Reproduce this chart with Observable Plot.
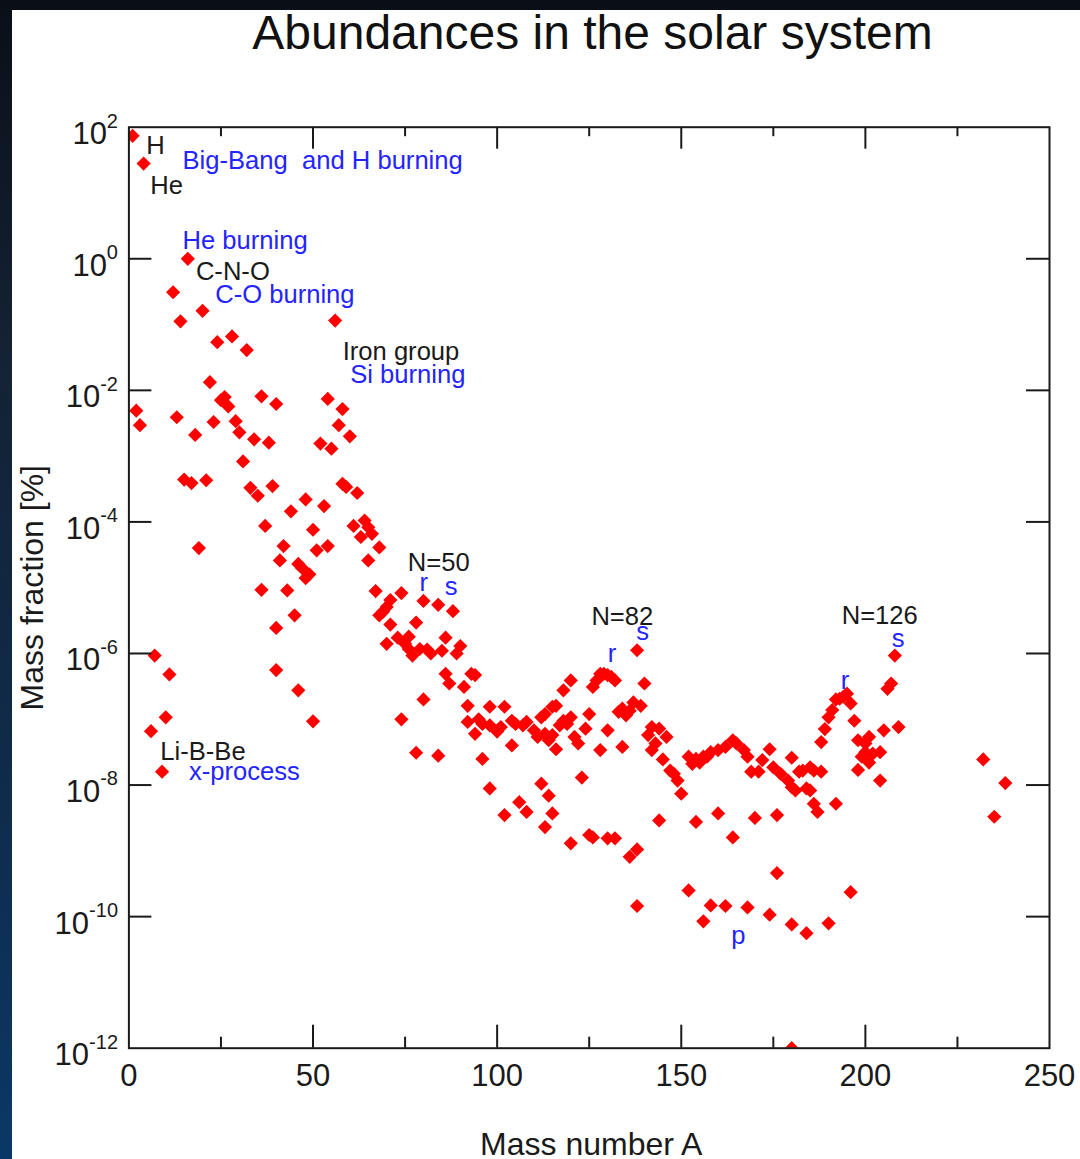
<!DOCTYPE html>
<html><head><meta charset="utf-8">
<script src="https://cdn.jsdelivr.net/npm/d3@7"></script>
<script src="https://cdn.jsdelivr.net/npm/@observablehq/plot@0.6"></script>
<style>
html,body{margin:0;padding:0;}
body{width:1080px;height:1159px;overflow:hidden;background:linear-gradient(to bottom,#0a0f17 0%,#142234 30%,#0f2c4c 70%,#0a3866 100%);font-family:"Liberation Sans",Arial,sans-serif;}
#page{position:relative;width:1080px;height:1159px;}
#panel{position:absolute;left:12px;top:10px;right:0;bottom:0;background:#fff;}
#title{position:absolute;left:132px;width:921px;top:9px;text-align:center;font-size:48px;line-height:48px;color:#111;white-space:nowrap;}
#chart{position:absolute;left:0;top:60px;}
</style></head><body>
<div id="page"><div id="panel"></div><div id="title">Abundances in the solar system</div><div id="chart"></div></div>
<script>
// Mass number A of each plotted isotope, and its mass fraction in %
const massNumber = [
  1, 2, 3, 4, 6, 7, 9, 10, 11, 12,
  13, 14, 15, 16, 17, 18, 19, 20, 21, 22,
  23, 24, 25, 26, 27, 28, 29, 30, 31, 32,
  33, 34, 35, 36, 36, 37, 38, 39, 40, 40,
  40, 41, 42, 43, 44, 45, 46, 46, 47, 48,
  48, 49, 50, 50, 51, 52, 53, 54, 54, 55,
  56, 57, 58, 58, 59, 60, 61, 62, 63, 64,
  65, 66, 68, 65, 67, 68, 69, 70, 71, 70,
  71, 73, 74, 74, 75, 76, 77, 76, 78, 78,
  80, 80, 79, 81, 82, 84, 85, 84, 86, 88,
  89, 90, 86, 87, 93, 94, 91, 92, 98, 102,
  92, 95, 96, 94, 98, 100, 101, 104, 105, 107,
  108, 110, 111, 113, 115, 113, 115, 116, 116, 120,
  118, 118, 120, 121, 122, 125, 124, 128, 126, 127,
  128, 129, 130, 131, 132, 138, 140, 133, 134, 135,
  136, 137, 139, 130, 134, 119, 117, 112, 114, 142,
  144, 141, 146, 143, 142, 145, 148, 149, 147, 150,
  152, 154, 156, 158, 160, 162, 164, 165, 167, 168,
  153, 155, 157, 169, 171, 172, 174, 175, 177, 179,
  180, 182, 183, 185, 186, 188, 180, 181, 184, 185,
  186, 187, 192, 188, 189, 190, 191, 192, 193, 194,
  195, 196, 197, 198, 200, 201, 200, 199, 201, 202,
  204, 205, 198, 204, 209, 207, 206, 208, 232, 238,
  235, 144, 154, 160, 170, 176, 164, 130, 132, 138,
  136, 176, 152, 196, 138, 156, 158, 162, 168, 174,
  180, 184, 190, 180, 123, 125, 126, 120, 112, 114,
  106, 108, 102, 115, 113, 98, 96, 104
];
const massFraction = [
  74, 4.9e-3, 2.95e-3, 28, 6.6e-8, 9.3e-7, 1.6e-8, 1.07e-7, 4.8e-7, 0.31,
  3.9e-3, 0.112, 4.4e-4, 1.0, 3.9e-4, 2.1e-3, 4.0e-5, 0.162, 4.3e-4, 1.33e-2,
  3.3e-3, 5.4e-2, 7.1e-3, 7.9e-3, 5.7e-3, 6.6e-2, 3.4e-3, 2.3e-3, 8.3e-4, 4.1e-2,
  3.3e-4, 1.8e-3, 2.5e-4, 8.1e-3, 9.3e-6, 8.7e-5, 1.6e-3, 3.5e-4, 6.2e-3, 2.45e-6,
  5.6e-7, 2.6e-5, 4.3e-5, 9.1e-6, 1.45e-4, 3.8e-6, 2.3e-5, 2.75e-7, 2.0e-5, 2.2e-4,
  1.4e-5, 1.6e-5, 7.6e-5, 9.3e-8, 3.7e-5, 1.55e-3, 1.74e-4, 7.4e-3, 4.3e-5, 1.3e-3,
  0.115, 2.95e-3, 5.2e-3, 3.8e-4, 3.4e-4, 2.0e-3, 8.7e-5, 2.75e-4, 5.9e-5, 1.05e-4,
  8.3e-5, 6.6e-5, 4.1e-5, 2.6e-5, 8.9e-6, 3.8e-6, 4.3e-6, 5.1e-6, 6.5e-6, 1.4e-6,
  2.75e-6, 1.74e-6, 8.3e-6, 1.0e-7, 1.4e-6, 1.17e-6, 9.3e-7, 1.8e-6, 2.95e-6, 3.1e-8,
  6.3e-6, 2.0e-7, 1.17e-6, 1.15e-6, 1.0e-6, 5.5e-6, 1.1e-6, 2.8e-8, 1.74e-6, 4.4e-6,
  1.0e-6, 1.3e-6, 4.9e-7, 3.5e-7, 4.9e-7, 4.7e-7, 3.1e-7, 1.6e-7, 1.55e-7, 1.55e-7,
  9.1e-8, 1.0e-7, 8.5e-8, 6.0e-8, 8.1e-8, 6.5e-8, 7.6e-8, 9.5e-8, 8.5e-8, 8.1e-8,
  9.1e-8, 6.8e-8, 5.4e-8, 6.0e-8, 5.75e-8, 1.2e-7, 1.55e-7, 1.6e-7, 3.5e-8, 3.9e-7,
  2.75e-7, 9.5e-8, 1.07e-7, 5.4e-8, 4.3e-8, 1.2e-7, 7.2e-8, 3.4e-8, 3.1e-7, 3.9e-7,
  4.9e-7, 4.9e-7, 4.7e-7, 4.4e-7, 3.9e-7, 1.12e-6, 3.5e-7, 1.3e-7, 1.45e-7, 1.15e-7,
  1.35e-7, 1.8e-7, 1.6e-7, 6.8e-8, 3.8e-8, 8.5e-8, 8.1e-8, 1.07e-7, 4.8e-8, 7.6e-8,
  7.2e-8, 5.75e-8, 5.4e-8, 4.3e-8, 3.4e-8, 2.45e-8, 1.48e-8, 1.17e-8, 1.66e-8, 7.4e-9,
  2.7e-8, 2.5e-8, 2.7e-8, 3.16e-8, 3.4e-8, 3.8e-8, 4.8e-8, 4.3e-8, 3.4e-8, 2.7e-8,
  2.1e-8, 2.2e-8, 2.7e-8, 1.6e-8, 1.6e-8, 2.4e-8, 3.5e-8, 1.86e-8, 1.48e-8, 1.17e-8,
  2.6e-8, 1.6e-8, 1.66e-8, 1.86e-8, 1.66e-8, 1.6e-8, 9.3e-9, 8.3e-9, 8.9e-9, 8.3e-9,
  5.2e-9, 3.9e-9, 5.2e-9, 4.5e-8, 7.1e-8, 1.07e-7, 1.38e-7, 2.0e-7, 2.05e-7, 2.2e-7,
  2.45e-7, 1.74e-7, 9.5e-8, 4.8e-8, 4.3e-8, 5.4e-8, 3.16e-8, 2.7e-8, 2.2e-8, 3.0e-8,
  3.16e-8, 6.8e-8, 1.7e-8, 1.17e-8, 7.6e-8, 3.5e-7, 2.9e-7, 9.3e-7, 2.45e-8, 1.07e-8,
  3.3e-9, 2.9e-9, 2.75e-9, 3.7e-9, 3.16e-9, 3.5e-9, 1.6e-9, 1.55e-9, 1.55e-9, 1.05e-9,
  8.1e-10, 4.6e-10, 2.5e-10, 2.35e-10, 1.45e-10, 8.5e-11, 1.48e-10, 1.45e-10, 1.38e-10, 1.07e-10,
  7.6e-11, 5.6e-11, 7.9e-11, 1.0e-12, 1.3e-8, 1.74e-9, 1.6e-9, 1.3e-9, 1.05e-8, 6.9e-9,
  5.5e-9, 3.9e-9, 3.5e-9, 3.7e-9, 2.3e-9, 8.9e-9, 2.5e-8, 4.0e-8
];

// Axis ticks
const xMajorTicks = [0, 50, 100, 150, 200, 250];
const xMinorTicks = [25, 75, 125, 175, 225];
const yTickExponents = [2, 0, -2, -4, -6, -8, -10, -12];

// Annotations (text, mass number, mass fraction, kind, anchor)
const annText = ["H", "He", "Big-Bang\u00a0\u00a0and H burning", "He burning", "C-N-O", "C-O burning",
  "Iron group", "Si burning", "N=50", "r", "s", "N=82", "s", "r", "N=126", "s", "r",
  "Li-B-Be", "x-process", "p"];
const annA = [4.7, 5.78, 14.55, 14.55, 18.19, 23.43, 58.05, 60.09, 75.73, 80.1, 87.5,
  134.0, 139.5, 131.2, 203.9, 208.9, 194.5, 8.53, 16.29, 165.5];
const annValue = [52.5, 13.0, 30.9, 1.9, 0.634, 0.28, 0.039, 0.0175, 2.38e-5, 1.18e-5, 1.05e-5,
  3.66e-6, 2.13e-6, 9.9e-7, 3.75e-6, 1.67e-6, 3.83e-7, 3.25e-8, 1.58e-8, 5.2e-11];
const annKind = ["element", "element", "process", "process", "element", "process",
  "element", "process", "element", "process", "process", "element", "process", "process",
  "element", "process", "process", "element", "process", "process"];
const annAlign = ["start", "start", "start", "start", "start", "start", "start", "start", "start",
  "middle", "middle", "middle", "middle", "middle", "middle", "middle", "middle",
  "start", "start", "middle"];

const W = 1080, H = 1099;
const M = {top: 66.7, right: 31, bottom: 111.3, left: 128.4};
const frameH = H - M.top - M.bottom;
const frameW = W - M.left - M.right;
const ink = "#1a1a1a";
const blue = "#2424ff";

const points = massNumber.map((a, i) => ({A: a, fraction: massFraction[i]}));
const ann = annText.map((t, i) => ({text: t, A: annA[i], value: annValue[i], kind: annKind[i], align: annAlign[i]}));

const expText = e => e < 0 ? "-" + (-e) : String(e);
const tickFont = 31, expFont = 20;
const expRight = 117.5 - M.left;
const charW = c => (c === "-" ? 0.333 : 0.556) * expFont;

const yLabelMarks = yTickExponents.flatMap(e => {
  const s = expText(e);
  const w = [...s].reduce((t, c) => t + charW(c), 0);
  return [
    Plot.text([e], {y: d => 10 ** d, text: () => "10", frameAnchor: "left", textAnchor: "end", lineAnchor: "middle",
      dx: expRight - w, dy: 7, fontSize: tickFont, fill: ink}),
    Plot.text([e], {y: d => 10 ** d, text: () => s, frameAnchor: "left", textAnchor: "end", lineAnchor: "middle",
      dx: expRight, dy: -6, fontSize: expFont, fill: ink})
  ];
});

const annFont = 25.6;
const annMark = (kind, align, color) => Plot.text(
  ann.filter(d => d.kind === kind && d.align === align),
  {x: "A", y: "value", text: "text", textAnchor: align, lineAnchor: "middle", fill: color, fontSize: annFont});

const innerY = yTickExponents.slice(1, -1);
const innerX = xMajorTicks.slice(1, -1);

const chart = Plot.plot({
  width: W, height: H,
  marginTop: M.top, marginRight: M.right, marginBottom: M.bottom, marginLeft: M.left,
  x: {domain: [0, 250], axis: null},
  y: {type: "log", domain: [1e-12, 1e2], axis: null},
  style: {fontFamily: "'Liberation Sans', Arial, sans-serif", background: "transparent", overflow: "visible"},
  marks: [
    Plot.dot(points, {x: "A", y: "fraction", symbol: "diamond2", r: 6.4, fill: "#ff0000", stroke: "none", clip: true}),
    // ticks (inward) on all four sides
    Plot.tickX(innerX, {x: d => d, insetTop: frameH - 23, stroke: ink, strokeWidth: 2}),
    Plot.tickX(xMinorTicks, {x: d => d, insetTop: frameH - 11, stroke: ink, strokeWidth: 2}),
    Plot.tickX(innerX, {x: d => d, insetBottom: frameH - 22, stroke: ink, strokeWidth: 2}),
    Plot.tickX(xMinorTicks, {x: d => d, insetBottom: frameH - 9.5, stroke: ink, strokeWidth: 2}),
    Plot.tickY(innerY, {y: d => 10 ** d, insetRight: frameW - 23, stroke: ink, strokeWidth: 2}),
    Plot.tickY(innerY, {y: d => 10 ** d, insetLeft: frameW - 23, stroke: ink, strokeWidth: 2}),
    Plot.frame({stroke: ink, strokeWidth: 2}),
    // tick labels
    Plot.text(xMajorTicks, {x: d => d, text: d => String(d), frameAnchor: "bottom", textAnchor: "middle", lineAnchor: "middle",
      dy: 27.5, fontSize: tickFont, fill: ink}),
    ...yLabelMarks,
    // axis titles
    Plot.text(["Mass fraction [%]"], {text: d => d, frameAnchor: "left", textAnchor: "middle", lineAnchor: "middle",
      rotate: -90, dx: -96, fontSize: 32, fill: ink}),
    Plot.text(["Mass number A"], {text: d => d, frameAnchor: "bottom", textAnchor: "middle", lineAnchor: "middle",
      dx: 2, dy: 96.6, fontSize: 32, fill: ink}),
    // annotations
    annMark("element", "start", ink),
    annMark("element", "middle", ink),
    annMark("process", "start", blue),
    annMark("process", "middle", blue)
  ]
});
document.getElementById("chart").appendChild(chart);
</script>
</body></html>
